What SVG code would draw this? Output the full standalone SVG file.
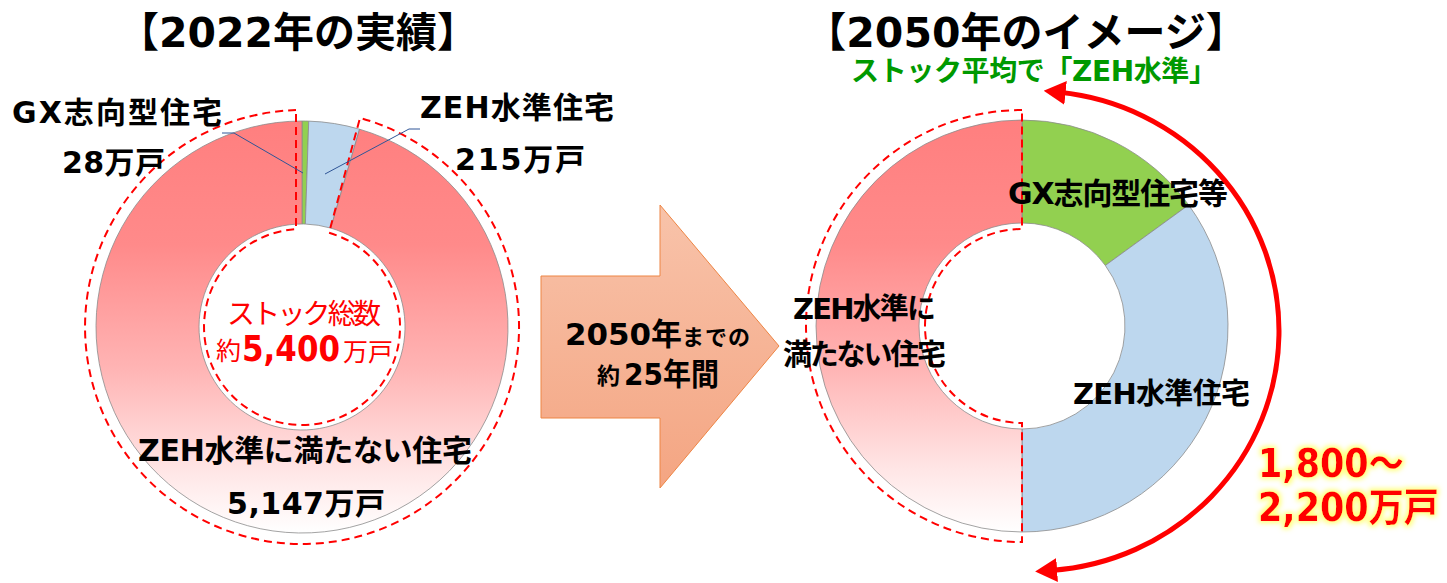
<svg xmlns="http://www.w3.org/2000/svg" width="1447" height="583" viewBox="0 0 1447 583">
<style>
.t{font-family:"DejaVu Sans","Noto Sans CJK JP",sans-serif;font-weight:bold;fill:#000}
.j{font-family:"Noto Sans CJK JP",sans-serif;font-weight:bold;fill:#000}
.seg{stroke:#8C8C8C;stroke-width:0.8}
.dash{fill:none;stroke:#FF0000;stroke-width:2;stroke-dasharray:8 5}
.lead{fill:none;stroke:#2F5597;stroke-width:1}
</style>
<defs>
<linearGradient id="pink" x1="0" y1="0" x2="0" y2="1">
<stop offset="0" stop-color="#FF7F7F"/>
<stop offset="0.3" stop-color="#FF8A8A"/>
<stop offset="0.6" stop-color="#FFB4B4"/>
<stop offset="0.85" stop-color="#FFE6E6"/>
<stop offset="1" stop-color="#FFFFFF"/>
</linearGradient>
<linearGradient id="peach" x1="0" y1="0" x2="0" y2="1">
<stop offset="0" stop-color="#F8C3AA"/>
<stop offset="1" stop-color="#F4A582"/>
</linearGradient>
<filter id="glow" x="-10%" y="-30%" width="120%" height="160%">
<feMorphology in="SourceAlpha" operator="dilate" radius="2" result="d"/>
<feGaussianBlur in="d" stdDeviation="2.5" result="b"/>
<feFlood flood-color="#FFFF66" flood-opacity="0.85"/>
<feComposite in2="b" operator="in" result="g"/>
<feMerge><feMergeNode in="g"/><feMergeNode in="SourceGraphic"/></feMerge>
</filter>
<marker id="ah" viewBox="0 0 22 24" markerUnits="userSpaceOnUse" markerWidth="22" markerHeight="24" refX="6" refY="12" orient="auto-start-reverse">
<path d="M0,0 L22,12 L0,24 Z" fill="#FF0000"/>
</marker>
</defs>
<rect width="1447" height="583" fill="#FFFFFF"/>

<g id="title-2022"><text class="t" x="298" y="47" font-size="41" text-anchor="middle">【2022年の実績】</text></g>
<g id="title-2050"><text class="t" x="1026" y="47" font-size="41" text-anchor="middle">【2050年のイメージ】</text></g>
<g id="subtitle-2050"><text class="t" x="851" y="81" font-size="28" style="fill:#009900" textLength="366" lengthAdjust="spacing">ストック平均で「ZEH水準」</text></g>

<g id="donut-2022">
<path id="seg-2022-gx" class="seg" fill="#92D050" d="M302,121 A206,206 0 0 1 308.72,121.11 L305.36,224.05 A103,103 0 0 0 302,224 Z"/>
<path id="seg-2022-zeh" class="seg" fill="#BDD7EE" d="M308.72,121.11 A206,206 0 0 1 359.58,129.21 L330.79,228.10 A103,103 0 0 0 305.36,224.05 Z"/>
<path id="seg-2022-other" class="seg" fill="url(#pink)" d="M359.58,129.21 A206,206 0 1 1 302,121 L302,224 A103,103 0 1 0 330.79,228.10 Z"/>
<path class="dash" d="M296,110.1 A217,217 0 1 0 360,117.9 L329,232.8 A98,98 0 1 1 296,229.2 Z"/>
</g>

<g id="labels-2022">
<text class="t" x="12" y="123" font-size="30" textLength="210" lengthAdjust="spacing">GX志向型住宅</text>
<text class="t" x="62" y="173" font-size="30" textLength="103" lengthAdjust="spacing">28万戸</text>
<text class="t" x="420" y="118" font-size="30" textLength="194" lengthAdjust="spacing">ZEH水準住宅</text>
<text class="t" x="455" y="170" font-size="30" textLength="130" lengthAdjust="spacing">215万戸</text>
<text class="t" x="305" y="461" font-size="30" text-anchor="middle" textLength="334" lengthAdjust="spacing">ZEH水準に満たない住宅</text>
<text class="t" x="227" y="514" font-size="30" textLength="158" lengthAdjust="spacing">5,147万戸</text>
</g>

<g id="total-2022">
<text class="j" x="304" y="324" font-size="28" text-anchor="middle" textLength="154" lengthAdjust="spacing" style="fill:#FF0000;font-weight:normal">ストック総数</text>
<text class="j" x="216" y="360" font-size="25" style="fill:#FF0000;font-weight:normal">約</text>
<text class="t" x="0" y="0" font-size="31" transform="translate(242,361) scale(1,1.12)" style="fill:#FF0000">5,400</text>
<text class="j" x="343" y="361" font-size="25" textLength="50" lengthAdjust="spacing" style="fill:#FF0000;font-weight:normal">万戸</text>
</g>

<g id="arrow-25y">
<path d="M541,276 L660,276 L660,205 L779,346 L660,488 L660,418 L541,418 Z" fill="url(#peach)" stroke="#ED8544" stroke-width="1"/>
<text class="t" x="565" y="345" font-size="31" textLength="117" lengthAdjust="spacingAndGlyphs">2050年</text>
<text class="j" x="682" y="345" font-size="22" textLength="68" lengthAdjust="spacing">までの</text>
<text class="j" x="597" y="384" font-size="23">約</text>
<text class="t" x="624" y="385" font-size="31" textLength="95" lengthAdjust="spacingAndGlyphs">25年間</text>
</g>

<g id="donut-2050">
<path id="seg-2050-gx" class="seg" fill="#92D050" d="M1022,120 A206,206 0 0 1 1188.66,204.92 L1105.33,265.46 A103,103 0 0 0 1022,223 Z"/>
<path id="seg-2050-zeh" class="seg" fill="#BDD7EE" d="M1188.66,204.92 A206,206 0 0 1 1022,532 L1022,429 A103,103 0 0 0 1105.33,265.46 Z"/>
<path id="seg-2050-other" class="seg" fill="url(#pink)" d="M1022,532 A206,206 0 0 1 1022,120 L1022,223 A103,103 0 0 0 1022,429 Z"/>
<path class="dash" d="M1022,110 A216,216 0 0 0 1022,542 L1022,423 A97,97 0 0 1 1022,229 Z"/>
</g>

<g id="labels-2050">
<text class="t" x="1008" y="204" font-size="30" textLength="220" lengthAdjust="spacing">GX志向型住宅等</text>
<text class="t" x="793" y="319" font-size="29" textLength="143" lengthAdjust="spacing">ZEH水準に</text>
<text class="t" x="783" y="365" font-size="29" textLength="163" lengthAdjust="spacing">満たない住宅</text>
<text class="t" x="1073" y="404" font-size="29" textLength="177" lengthAdjust="spacing">ZEH水準住宅</text>
</g>

<g id="range-2050" filter="url(#glow)">
<text class="t" x="0" y="0" font-size="35" transform="translate(1258,477) scale(1,1.1)" style="fill:#FF0000">1,800～</text>
<text class="t" x="0" y="0" font-size="35" transform="translate(1258,521) scale(1,1.1)" style="fill:#FF0000">2,200万戸</text>
</g>

<g id="connectors">
<path class="lead" d="M222,133 L234,133 L303,173"/>
<path class="lead" d="M420,129 L409,129 L325,174"/>
<path d="M1059.6,92.3 A245,240 0 0 1 1051.1,570.4" fill="none" stroke="#FF0000" stroke-width="5" marker-start="url(#ah)" marker-end="url(#ah)"/>
</g>
</svg>
